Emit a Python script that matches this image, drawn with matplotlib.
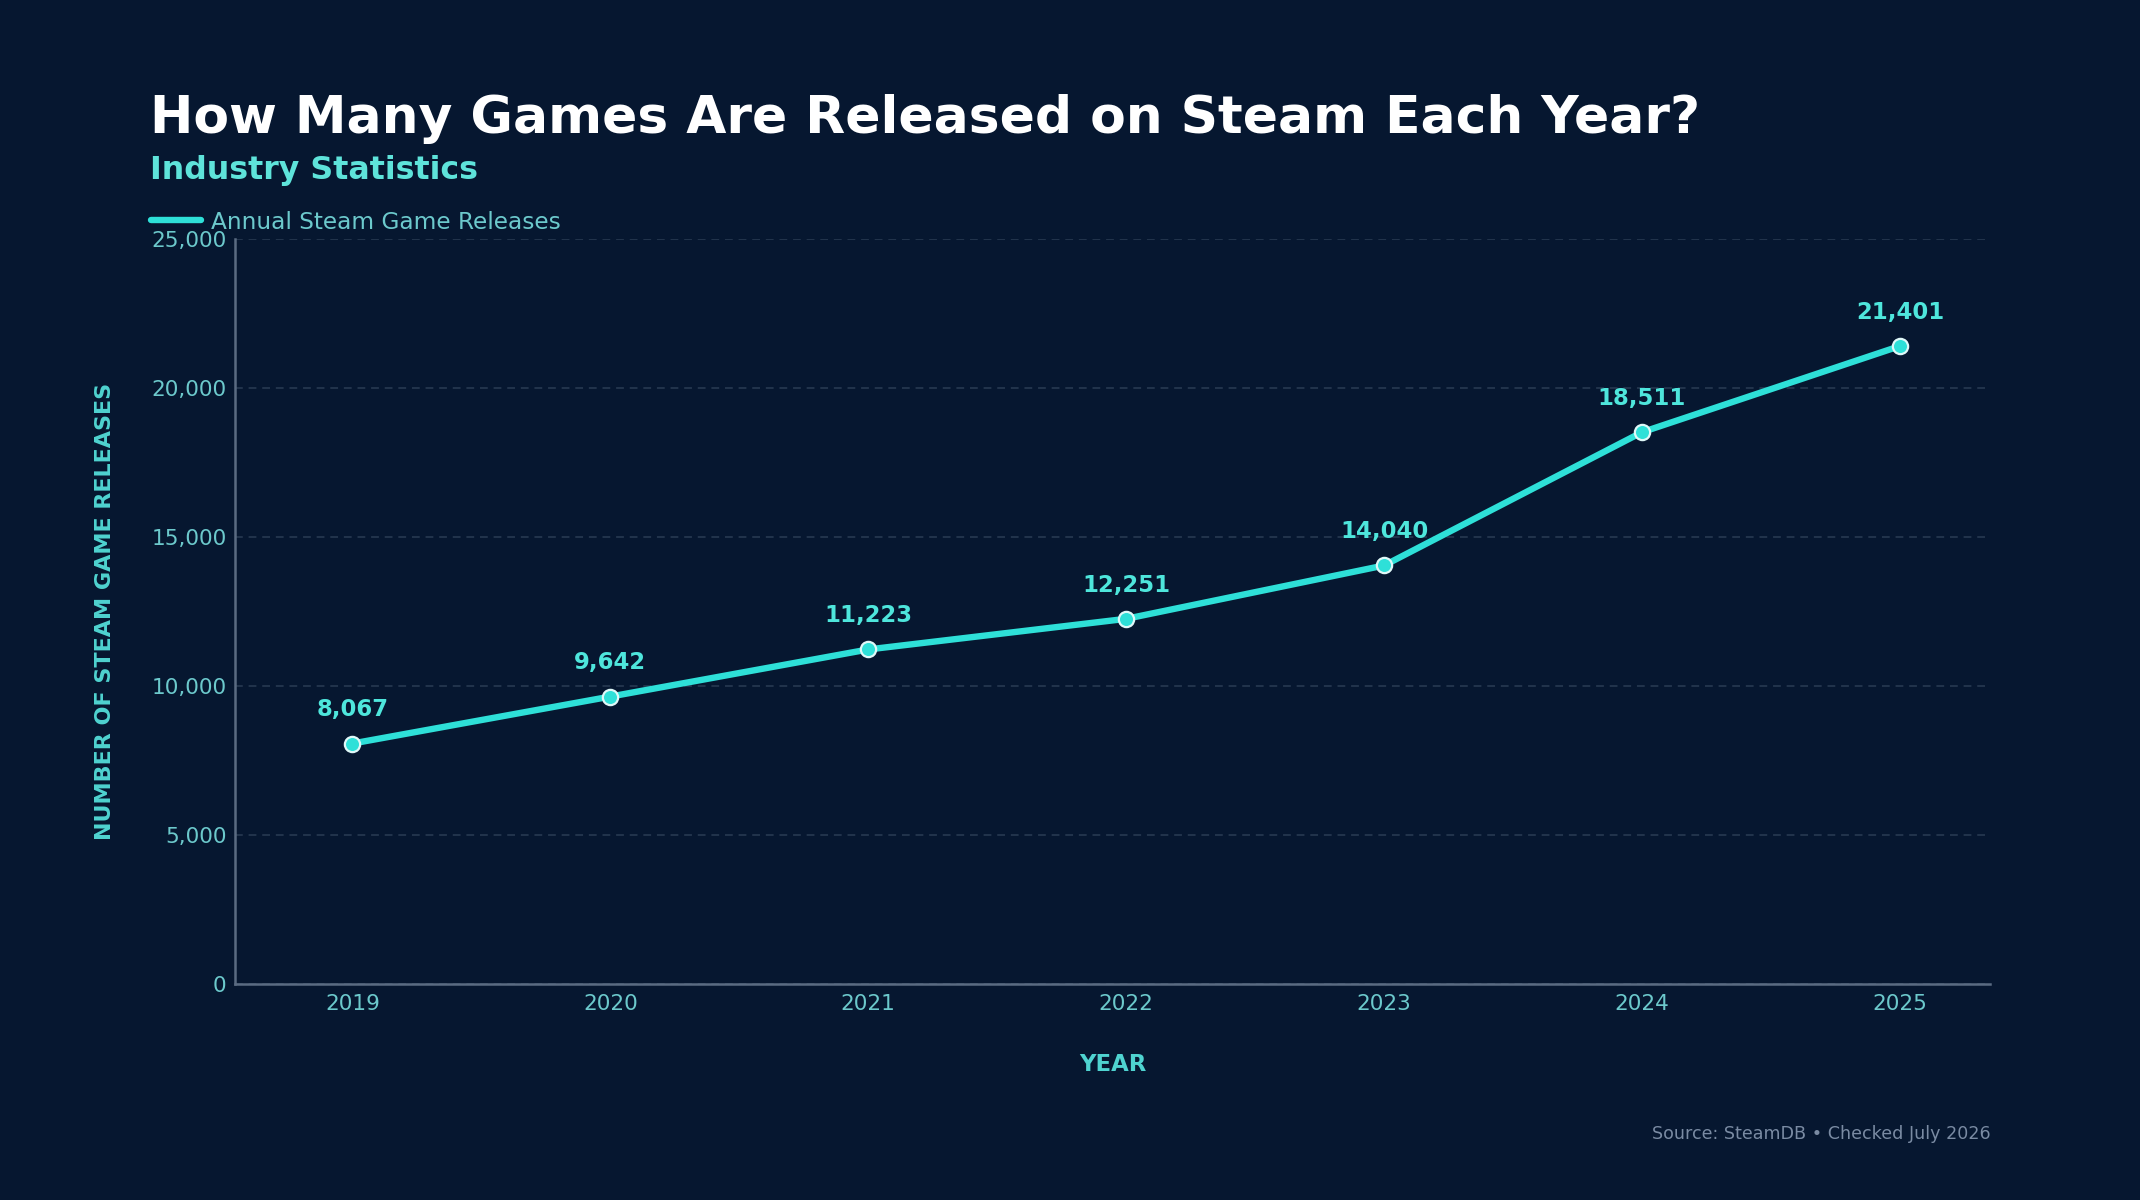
import matplotlib
matplotlib.use("Agg")
import matplotlib.pyplot as plt
from matplotlib.ticker import FuncFormatter, MultipleLocator

years = [2019, 2020, 2021, 2022, 2023, 2024, 2025]
releases = [8067, 9642, 11223, 12251, 14040, 18511, 21401]
series_name = "Annual Steam Game Releases"
title = "How Many Games Are Released on Steam Each Year?"
subtitle = "Industry Statistics"
xlabel = "YEAR"
ylabel = "NUMBER OF STEAM GAME RELEASES"
source = "Source: SteamDB \u2022 Checked July 2026"

BG = "#061730"
LINE = "#2ee0d8"
LABEL = "#4ee6dc"
TICK = "#6cc9cc"
SPINE = "#5a6b82"
GRID = "#22344c"

plt.rcParams['font.family'] = ['DejaVu Sans']

fig = plt.figure(figsize=(10.7, 6.0), dpi=200, facecolor=BG)
ax = fig.add_axes([0.1098, 0.18, 0.8202, 0.621])
ax.set_facecolor(BG)

line, = ax.plot(years, releases, color=LINE, lw=2.3, marker='o', markersize=5.5,
                markerfacecolor=LINE, markeredgecolor="#dff8f8", markeredgewidth=0.8,
                label=series_name, zorder=3, solid_capstyle='round')

for x, y in zip(years, releases):
    ax.annotate(f"{y:,}", (x, y), xytext=(0, 8), textcoords='offset points',
                ha='center', va='bottom', color=LABEL, fontsize=8.2, fontweight='bold')

ax.set_xlim(2018.545, 2025.35)
ax.set_ylim(0, 25000)
ax.set_xticks(years)
ax.set_xticklabels([str(y) for y in years])
ax.yaxis.set_major_locator(MultipleLocator(5000))
ax.yaxis.set_major_formatter(FuncFormatter(lambda v, p: f"{int(v):,}"))

ax.grid(axis='y', color=GRID, linestyle=(0, (4, 3)), linewidth=0.7)
ax.grid(axis='x', visible=False)
ax.set_axisbelow(True)

for s in ['top', 'right']:
    ax.spines[s].set_visible(False)
for s in ['left', 'bottom']:
    ax.spines[s].set_color(SPINE)
    ax.spines[s].set_linewidth(0.9)

ax.tick_params(axis='both', colors=TICK, labelsize=7.8, length=0)
ax.tick_params(axis='x', pad=3.5)
ax.tick_params(axis='y', pad=3)

ax.set_xlabel(xlabel, color="#4fd3d0", fontsize=8.2, fontweight='bold', labelpad=14)
ax.set_ylabel(ylabel, color="#4fd3d0", fontsize=8.0, fontweight='bold', labelpad=13)

fig.text(0.070, 0.889, title, color="white", fontsize=18.7, fontweight='bold', va='baseline', ha='left')
fig.text(0.070, 0.8505, subtitle, color="#5ee3da", fontsize=11.4, fontweight='bold', va='baseline', ha='left')

leg = fig.legend(handles=[line], labels=[series_name], loc='center left',
                 bbox_to_anchor=(0.0663, 0.815), frameon=False, fontsize=8.4,
                 handlelength=2.15, handletextpad=0.4, borderaxespad=0)
for t in leg.get_texts():
    t.set_color(TICK)
leg.legend_handles[0].set_marker('')
leg.legend_handles[0].set_linewidth(2.3)

fig.text(0.930, 0.055, source, color="#7a8ba3", fontsize=6.3, ha='right', va='center')

fig.savefig("out.png", dpi=200, facecolor=BG)
